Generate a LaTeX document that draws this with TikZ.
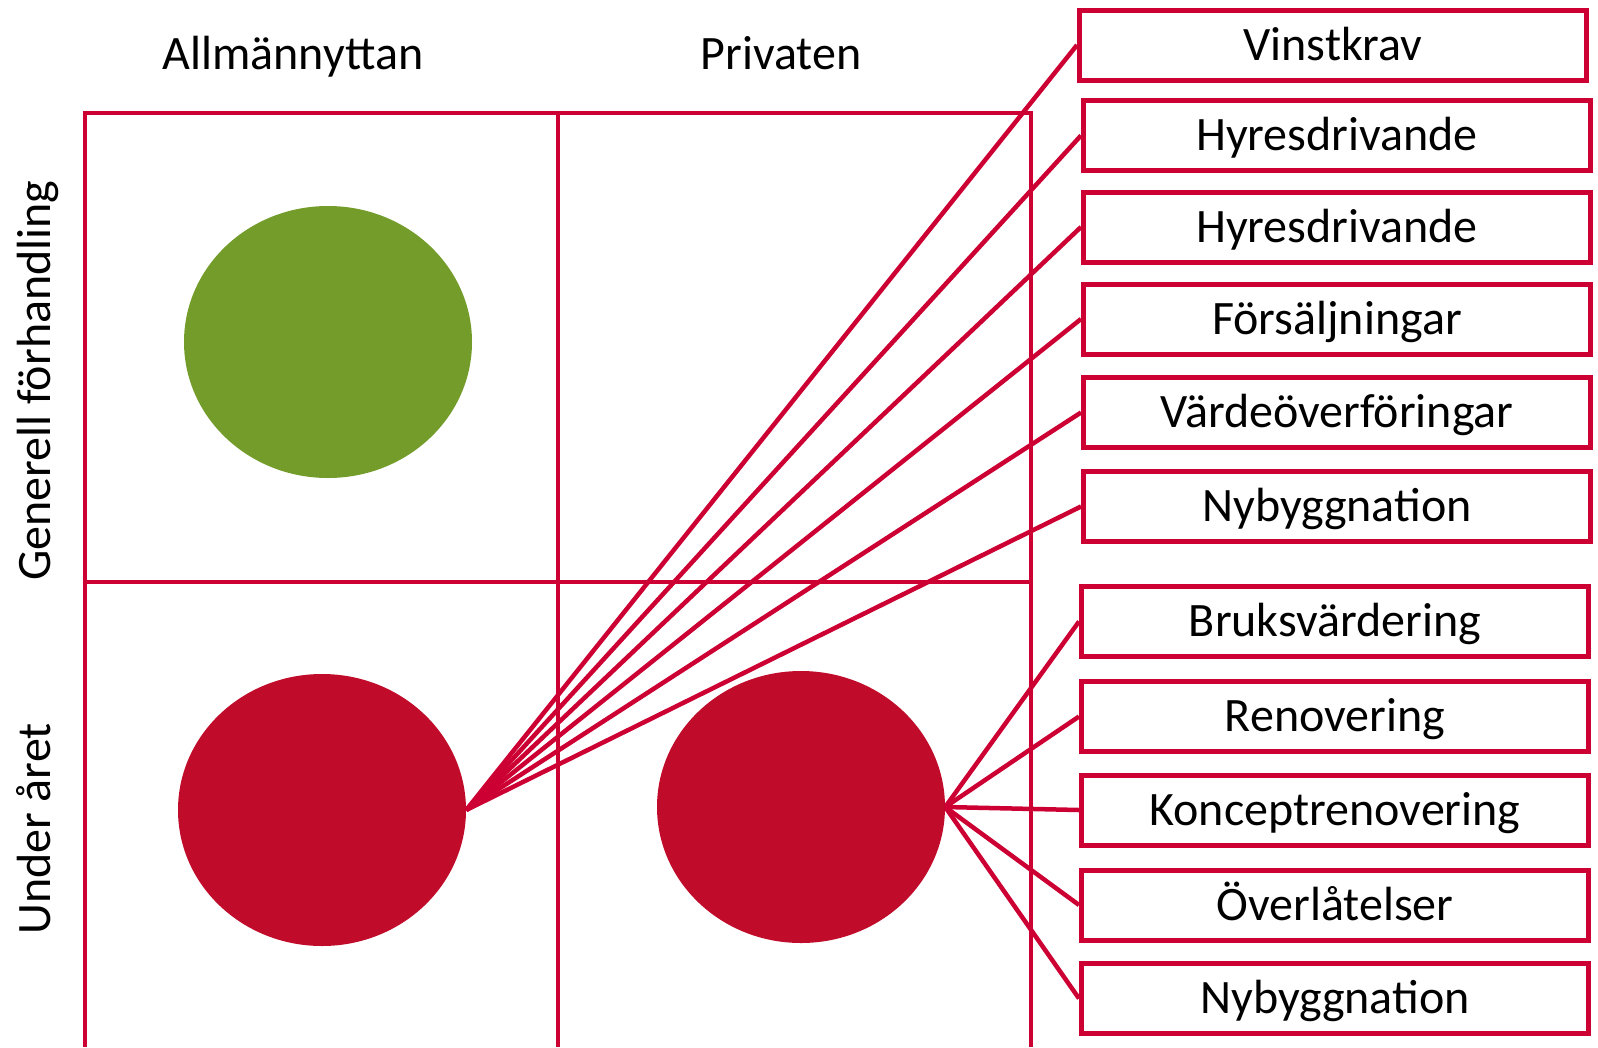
\documentclass[tikz,border=0pt]{standalone}
\usepackage{fontspec}
\setmainfont{Carlito}
\usetikzlibrary{shapes.geometric}
\definecolor{linered}{RGB}{204,0,51}
\definecolor{dotred}{RGB}{192,12,42}
\definecolor{dotgreen}{RGB}{116,156,42}
\begin{document}
\begin{tikzpicture}[x=1pt,y=-1pt,
  gridline/.style={draw=linered,line width=4.2pt},
  conn/.style={draw=linered,line width=4.5pt},
  labelbox/.style={draw=linered,line width=5pt,minimum width=507pt,minimum height=70pt,
    inner sep=0pt,text height=30pt,text depth=0pt,font=\fontsize{48}{57}\selectfont},
  dot/.style={ellipse,inner sep=0pt,minimum width=288pt,minimum height=272pt},
  head/.style={inner sep=0pt,anchor=base,font=\fontsize{48}{57}\selectfont},
  side/.style={inner sep=0pt,rotate=90,anchor=base west,font=\fontsize{48}{57}\selectfont}]
\useasboundingbox (0,0) rectangle (1598,1047);
% grid
\draw[gridline] (85,1047) -- (85,113) -- (1031,113) -- (1031,1047);
\draw[gridline] (558,113) -- (558,1047);
\draw[gridline] (85,582) -- (1031,582);
% headings
\node[head] (h1) at (293,69) {Allmännyttan};
\node[head] (h2) at (781,69) {Privaten};
\node[side] (s1) at (50,581) {Generell förhandling};
\node[side] (s2) at (50,935) {Under året};
% dots
\node[dot,fill=dotgreen] (g) at (328,342) {};
\node[dot,fill=dotred] (rl) at (322,810) {};
\node[dot,fill=dotred] (rr) at (801,807) {};
% boxes
\node[labelbox] (b1) at (1333,45) {Vinstkrav};
\node[labelbox] (b2) at (1337,135.5) {Hyresdrivande};
\node[labelbox] (b3) at (1337,227) {Hyresdrivande};
\node[labelbox] (b4) at (1337,319) {Försäljningar};
\node[labelbox] (b5) at (1337,412.5) {Värdeöverföringar};
\node[labelbox] (b6) at (1337,506.5) {Nybyggnation};
\node[labelbox] (b7) at (1335,621.5) {Bruksvärdering};
\node[labelbox] (b8) at (1335,716.5) {Renovering};
\node[labelbox] (b9) at (1335,810) {Konceptrenovering};
\node[labelbox] (b10) at (1335,905) {Överlåtelser};
\node[labelbox] (b11) at (1335,998.5) {Nybyggnation};
% connectors
\foreach \b in {b1,b2,b3,b4,b5,b6} \draw[conn] (rl.east) -- (\b.west);
\foreach \b in {b7,b8,b9,b10,b11} \draw[conn] (rr.east) -- (\b.west);
\end{tikzpicture}
\end{document}
